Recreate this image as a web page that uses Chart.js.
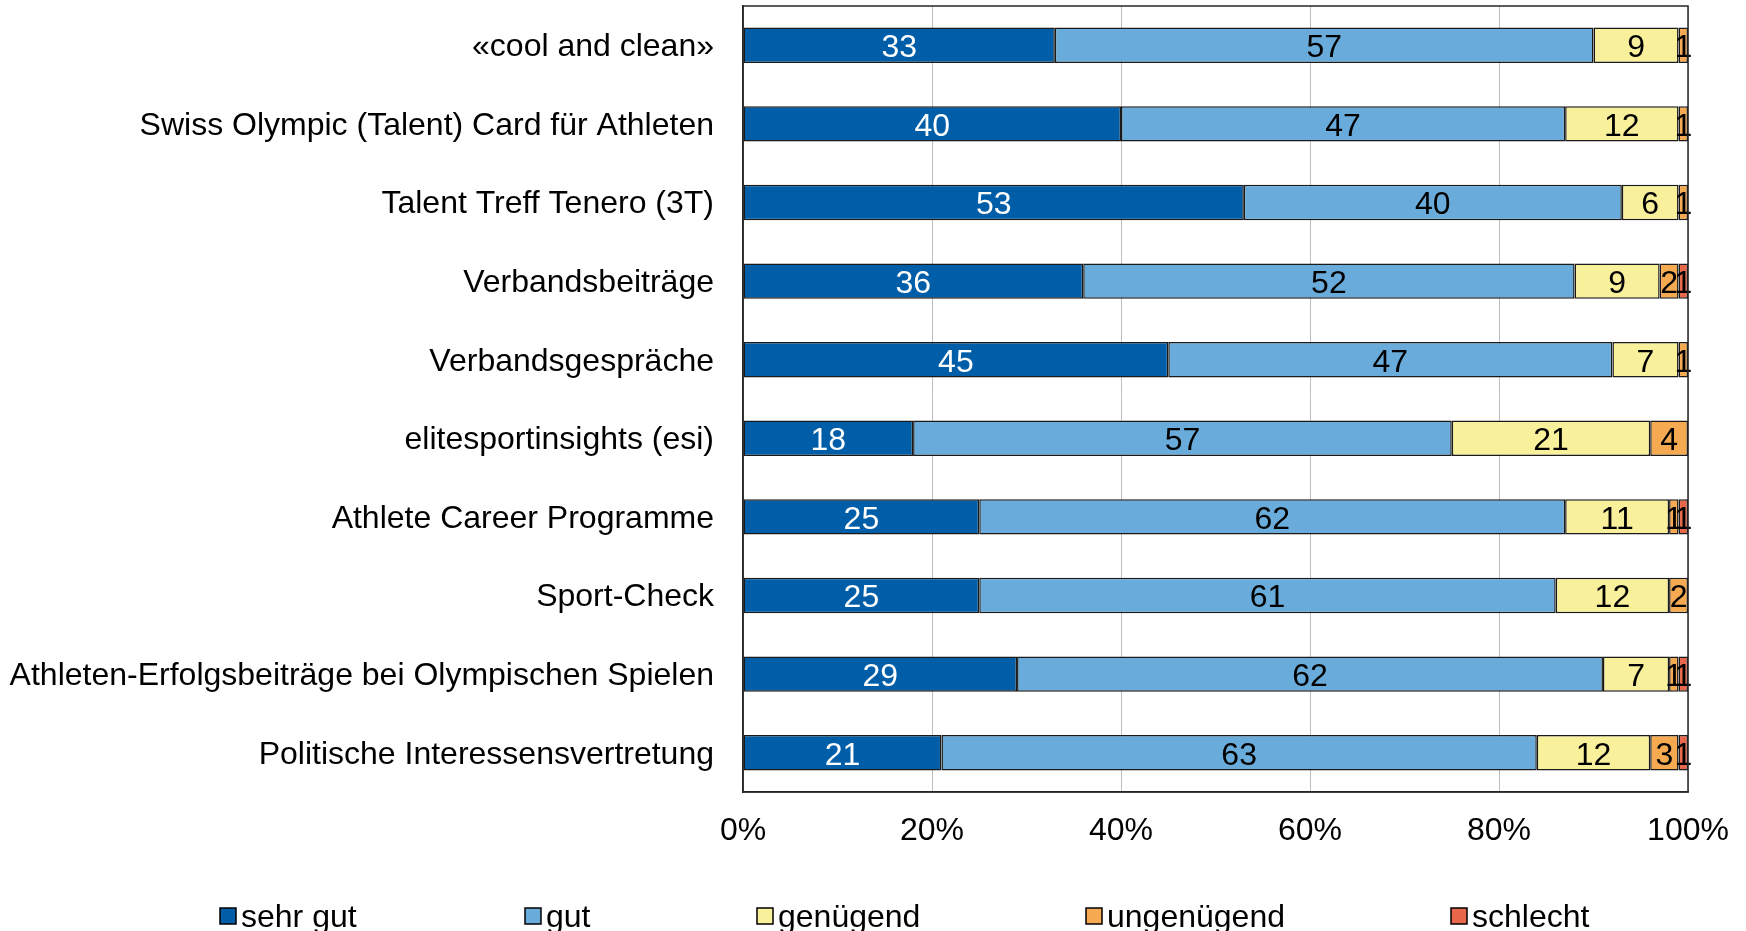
<!DOCTYPE html>
<html>
<head>
<meta charset="utf-8">
<script src="https://cdn.jsdelivr.net/npm/chart.js@4/dist/chart.umd.min.js"></script>
<style>
  body { margin: 0; background: #fff; }
  #wrap { width: 1746px; height: 931px; }
</style>
</head>
<body>
<div id="wrap"><canvas id="chart"></canvas></div>
<script>
// Kategorien und Werte (Prozent)
const categories = [
  '«cool and clean»',
  'Swiss Olympic (Talent) Card für Athleten',
  'Talent Treff Tenero (3T)',
  'Verbandsbeiträge',
  'Verbandsgespräche',
  'elitesportinsights (esi)',
  'Athlete Career Programme',
  'Sport-Check',
  'Athleten-Erfolgsbeiträge bei Olympischen Spielen',
  'Politische Interessensvertretung'
];
const sehrGut     = [33, 40, 53, 36, 45, 18, 25, 25, 29, 21];
const gut         = [57, 47, 40, 52, 47, 57, 62, 61, 62, 63];
const genuegend   = [9, 12, 6, 9, 7, 21, 11, 12, 7, 12];
const ungenuegend = [1, 1, 1, 2, 1, 4, 1, 2, 1, 3];
const schlecht    = [0, 0, 0, 1, 0, 0, 1, 0, 1, 1];
const seriesNames = ['sehr gut', 'gut', 'genügend', 'ungenügend', 'schlecht'];
const xTicks = [0, 20, 40, 60, 80, 100];

const colors = ['#005EA8', '#69ACDB', '#F9F09C', '#F5A951', '#E8664A'];
const labelColors = ['#ffffff', '#000000', '#000000', '#000000', '#000000'];
const FONT = '"Liberation Sans", Arial, sans-serif';
const FS = 32;

const seriesData = [sehrGut, gut, genuegend, ungenuegend, schlecht];

// Werte in die Balken schreiben
const valueLabels = {
  id: 'valueLabels',
  afterDatasetsDraw(chart) {
    const ctx = chart.ctx;
    ctx.save();
    ctx.font = FS + 'px ' + FONT;
    ctx.textAlign = 'center';
    ctx.textBaseline = 'middle';
    chart.data.datasets.forEach((ds, i) => {
      const meta = chart.getDatasetMeta(i);
      meta.data.forEach((bar, j) => {
        const v = ds.data[j];
        if (!v) return;
        ctx.fillStyle = labelColors[i];
        ctx.fillText(String(v), (bar.x + bar.base) / 2, bar.y + 3);
      });
    });
    ctx.restore();
  }
};

// Rahmen um die Zeichnungsfläche + Legende wie im Original
const frameAndLegend = {
  id: 'frameAndLegend',
  afterDraw(chart) {
    const ctx = chart.ctx;
    const a = chart.chartArea;
    ctx.save();
    ctx.strokeStyle = '#262626';
    ctx.lineWidth = 1.5;
    ctx.strokeRect(a.left, a.top, a.right - a.left, a.bottom - a.top);

    const legendX = [220, 525, 757, 1086, 1451];
    const y = 916;
    ctx.font = FS + 'px ' + FONT;
    ctx.textBaseline = 'middle';
    ctx.textAlign = 'left';
    seriesNames.forEach((name, i) => {
      ctx.fillStyle = colors[i];
      ctx.fillRect(legendX[i], y - 8, 16, 16);
      ctx.strokeStyle = '#000';
      ctx.lineWidth = 1.5;
      ctx.strokeRect(legendX[i], y - 8, 16, 16);
      ctx.fillStyle = '#000';
      ctx.fillText(name, legendX[i] + 21, y + 2);
    });
    ctx.restore();
  }
};

new Chart(document.getElementById('chart'), {
  type: 'bar',
  data: {
    labels: categories,
    datasets: seriesData.map((d, i) => ({
      label: seriesNames[i],
      data: d,
      backgroundColor: colors[i],
      borderColor: '#1a1a1a',
      borderWidth: 1.5,
      borderSkipped: false,
      barPercentage: 0.45,
      categoryPercentage: 1
    }))
  },
  options: {
    indexAxis: 'y',
    responsive: true,
    maintainAspectRatio: false,
    animation: false,
    layout: { padding: { top: 6, right: 58, bottom: 0, left: 0 } },
    plugins: {
      legend: { display: false },
      tooltip: { enabled: false }
    },
    scales: {
      x: {
        stacked: true,
        min: 0,
        max: 100,
        afterBuildTicks(s) { s.ticks = xTicks.map(v => ({ value: v })); },
        ticks: {
          color: '#000',
          font: { family: FONT, size: FS },
          padding: 20,
          callback: v => v + '%'
        },
        grid: { color: '#BFBFBF', lineWidth: 1, drawTicks: false },
        border: { display: true, color: '#262626', width: 1.5 },
        afterFit(s) {
          s.height = 139;
          s.paddingLeft = 0;
          s.paddingRight = 0;
        }
      },
      y: {
        stacked: true,
        ticks: {
          color: '#000',
          font: { family: FONT, size: FS },
          padding: 29,
          labelOffset: 2
        },
        grid: { display: false, drawTicks: false },
        border: { display: true, color: '#262626', width: 1.5 },
        afterFit(s) {
          s.width = 743;
          s.paddingTop = 0;
          s.paddingBottom = 0;
        }
      }
    }
  },
  plugins: [valueLabels, frameAndLegend]
});
</script>
</body>
</html>
